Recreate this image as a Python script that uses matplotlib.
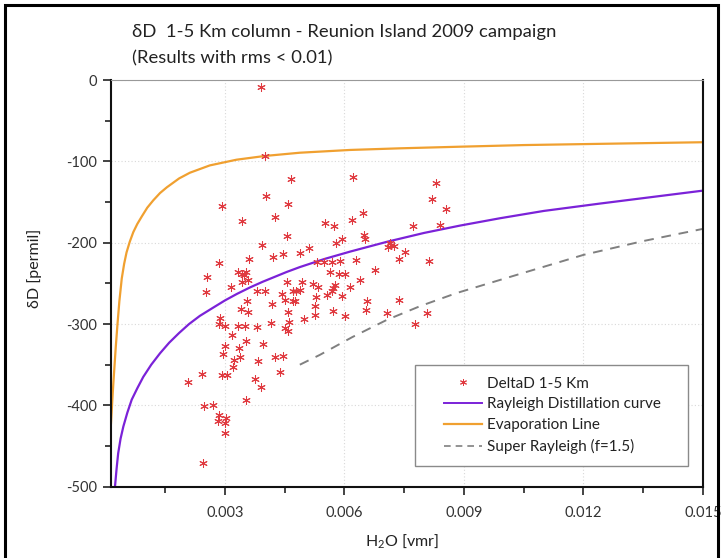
import matplotlib
matplotlib.use("Agg")
import matplotlib.pyplot as plt
from matplotlib.patches import Rectangle
from matplotlib.lines import Line2D
from matplotlib.ticker import FixedLocator

plt.rcParams['font.family'] = ['Lato', 'DejaVu Sans']
plt.rcParams['mathtext.fontset'] = 'custom'
plt.rcParams['mathtext.rm'] = 'Lato'
plt.rcParams['mathtext.it'] = 'Lato:italic'
plt.rcParams['axes.unicode_minus'] = False

# ---------------- data ----------------
obs_h2o = [
    0.00391, 0.00400, 0.00467, 0.00403, 0.00459, 0.00292, 0.00425, 0.00344, 0.00455, 0.00394,
    0.00511, 0.00446, 0.00488, 0.00421, 0.00360, 0.00285, 0.00256, 0.00332, 0.00342, 0.00353,
    0.00348, 0.00530, 0.00548, 0.00569, 0.00590,
    0.00622, 0.00831, 0.00820, 0.00854, 0.00647, 0.00618, 0.00551, 0.00574, 0.00771, 0.00841,
    0.00650, 0.00651, 0.00595, 0.00580, 0.00714, 0.00710, 0.00724, 0.00716, 0.00752, 0.00737,
    0.00813, 0.00630, 0.00563, 0.00587, 0.00601, 0.00676, 0.00639,
    0.00252, 0.00314, 0.00344, 0.00357, 0.00380, 0.00400, 0.00455, 0.00494, 0.00522, 0.00533,
    0.00442, 0.00471, 0.00478, 0.00470, 0.00476, 0.00450, 0.00419, 0.00528, 0.00527, 0.00356,
    0.00340, 0.00359, 0.00459, 0.00288, 0.00499, 0.00526, 0.00286, 0.00300, 0.00333, 0.00350,
    0.00381, 0.00415, 0.00460, 0.00452, 0.00459, 0.00317, 0.00354, 0.00396, 0.00300, 0.00336,
    0.00338, 0.00294, 0.00323, 0.00384, 0.00425, 0.00446, 0.00321, 0.00438, 0.00243, 0.00292,
    0.00304, 0.00208, 0.00375, 0.00390, 0.00353, 0.00248, 0.00269, 0.00286, 0.00303, 0.00282,
    0.00300, 0.00300, 0.00246, 0.00488,
    0.00576, 0.00572, 0.00555, 0.00568, 0.00615, 0.00593, 0.00656, 0.00737, 0.00572, 0.00601,
    0.00653, 0.00707, 0.00806, 0.00778,
]
obs_dd = [
    -9, -93, -122, -142, -153, -155, -169, -173, -192, -203,
    -206, -214, -213, -218, -220, -225, -242, -236, -238, -236,
    -240, -224, -224, -224, -223,
    -119, -127, -146, -159, -163, -172, -176, -180, -179, -178,
    -191, -195, -196, -200, -201, -205, -204, -203, -212, -220,
    -223, -221, -236, -239, -239, -234, -246,
    -261, -254, -248, -246, -260, -259, -248, -248, -251, -254,
    -263, -260, -260, -272, -272, -270, -276, -267, -278, -272,
    -282, -285, -285, -292, -294, -289, -300, -302, -302, -302,
    -304, -299, -297, -305, -309, -314, -321, -324, -327, -330,
    -341, -337, -344, -345, -341, -339, -353, -359, -361, -363,
    -363, -371, -368, -377, -393, -401, -400, -412, -415, -419,
    -422, -434, -471, -258,
    -252, -256, -264, -260, -254, -266, -272, -270, -284, -290,
    -283, -286, -287, -300,
]

rayleigh_h2o = [0.00024, 0.00028, 0.00032, 0.00038, 0.00045, 0.00055, 0.00066, 0.00080,
                0.00095, 0.00115, 0.00137, 0.00160, 0.00185, 0.00210, 0.00237, 0.00270,
                0.00300, 0.00330, 0.00363, 0.00395, 0.00425, 0.00455, 0.00488, 0.00550,
                0.00614, 0.00706, 0.00800, 0.00890, 0.00990, 0.01100, 0.01240, 0.01370,
                0.01500]
rayleigh_dd = [-500, -478, -459, -441, -426, -409, -393, -379,
               -365, -350, -336, -323, -311, -300, -290, -280,
               -271, -263, -255, -248, -242, -236, -230, -220,
               -211, -199, -188, -179, -170, -161, -152, -144,
               -136]

evap_h2o = [0.00014, 0.00016, 0.00018, 0.00020, 0.00023, 0.00026, 0.00030, 0.00035,
            0.00041, 0.00047, 0.00053, 0.00061, 0.00070, 0.00080, 0.00091, 0.00105,
            0.00120, 0.00137, 0.00154, 0.00185, 0.00212, 0.00262, 0.00329, 0.00400,
            0.00488, 0.00614, 0.00739, 0.00890, 0.01050, 0.01240, 0.01500]
evap_dd = [-422, -405, -388, -372, -350, -328, -302, -272,
           -244, -226, -212, -199, -187, -177, -168, -157,
           -148, -139, -132, -121, -114, -105, -98, -93.4,
           -89.4, -86, -84, -82, -80, -78.5, -76.5]

super_h2o = [0.00488, 0.00538, 0.00620, 0.00706, 0.00790, 0.00881, 0.01050, 0.01200,
             0.01350, 0.01500]
super_dd = [-350, -338, -316, -295, -278, -262, -237, -215, -198, -183]

xticks_major = [0.003, 0.006, 0.009, 0.012, 0.015]
xtick_labels = ['0.003', '0.006', '0.009', '0.012', '0.015']
xticks_minor = [0.0015, 0.0045, 0.0075, 0.0105, 0.0135]
yticks_major = [0, -100, -200, -300, -400, -500]
yticks_minor = [-50, -150, -250, -350, -450]

title_line1 = 'δD  1-5 Km column - Reunion Island 2009 campaign'
title_line2 = '(Results with rms < 0.01)'
legend_labels = ['DeltaD 1-5 Km', 'Rayleigh Distillation curve', 'Evaporation Line',
                 'Super Rayleigh (f=1.5)']

# ---------------- figure ----------------
W, H = 723, 558
fig = plt.figure(figsize=(W / 100, H / 100), dpi=100)
fig.patch.set_facecolor('white')

# outer black frame
fig.patches.append(Rectangle((5 / W, -0.05), (718 - 5) / W, (H - 5) / H + 0.05,
                             transform=fig.transFigure, fill=False,
                             edgecolor='black', linewidth=2.2))

ax_l, ax_r, ax_t, ax_b = 111, 703, 80, 486.7
ax = fig.add_axes([ax_l / W, 1 - ax_b / H, (ax_r - ax_l) / W, (ax_b - ax_t) / H])

purple = '#7b22d8'
orange = '#f0a030'
red = '#e03a40'
gray = '#808080'

ax.plot(obs_h2o, obs_dd, linestyle='none', marker=(6, 2, 0), markersize=6,
        markeredgecolor=red, markeredgewidth=0.75, zorder=3)
ax.plot(evap_h2o, evap_dd, color=orange, linewidth=1.6, zorder=2)
ax.plot(rayleigh_h2o, rayleigh_dd, color=purple, linewidth=1.6, zorder=2)
ax.plot(super_h2o, super_dd, color=gray, linewidth=1.4, linestyle=(0, (5, 4)), zorder=2)

ax.set_xlim(0.00014, 0.015)
ax.set_ylim(-500, 0)

ax.xaxis.set_major_locator(FixedLocator(xticks_major))
ax.set_xticklabels(xtick_labels)
ax.xaxis.set_minor_locator(FixedLocator(xticks_minor))
ax.yaxis.set_major_locator(FixedLocator(yticks_major))
ax.yaxis.set_minor_locator(FixedLocator(yticks_minor))

ax.tick_params(axis='both', which='major', direction='out', length=6, width=1.2,
               labelsize=10.5, labelcolor='#333333', color='#222222')
ax.tick_params(axis='both', which='minor', direction='out', length=4, width=1.2,
               color='#222222')
ax.tick_params(axis='x', which='major', pad=8)
ax.tick_params(axis='y', which='major', pad=4)

ax.grid(True, which='major', linestyle=(0, (1, 2)), color='#d8d8d8', linewidth=0.8)
ax.set_axisbelow(True)

for side in ['left', 'bottom', 'right']:
    ax.spines[side].set_color('#111111')
    ax.spines[side].set_linewidth(1.5)
ax.spines['top'].set_color('#999999')
ax.spines['top'].set_linewidth(0.8)

# titles and labels
fig.text(132 / W, 1 - 32 / H, title_line1, fontsize=13.3, color='#222222',
         ha='left', va='center')
fig.text(132 / W, 1 - 58 / H, title_line2, fontsize=13.3, color='#222222',
         ha='left', va='center')
fig.text(402 / W, 1 - 541 / H, 'H$_2$O [vmr]', fontsize=11.5, color='#222222',
         ha='center', va='center')
fig.text(35 / W, 1 - 268 / H, 'δD [permil]', fontsize=11.5, color='#222222',
         ha='center', va='center', rotation=90)

# legend box
lx0, lx1, ly0, ly1 = 415, 688, 365, 466
fig.patches.append(Rectangle((lx0 / W, 1 - ly1 / H), (lx1 - lx0) / W, (ly1 - ly0) / H,
                             transform=fig.transFigure, facecolor='white',
                             edgecolor='#8a8a8a', linewidth=1.0, zorder=5))
handles = [
    Line2D([], [], linestyle='none', marker=(6, 2, 0), markersize=5,
           markeredgecolor=red, markeredgewidth=0.7),
    Line2D([], [], color=purple, linewidth=1.4),
    Line2D([], [], color=orange, linewidth=1.6),
    Line2D([], [], color=gray, linewidth=1.2, linestyle=(0, (4, 3))),
]
leg = fig.legend(handles, legend_labels, loc='upper left',
                 bbox_to_anchor=(444 / W, 1 - 376.5 / H), frameon=False,
                 fontsize=11, handlelength=2.5, handletextpad=0.3,
                 labelspacing=0.45, borderpad=0.0, borderaxespad=0.0)
leg.set_zorder(6)
for t in leg.get_texts():
    t.set_color('#222222')

fig.savefig('out.png', dpi=100, facecolor='white')
